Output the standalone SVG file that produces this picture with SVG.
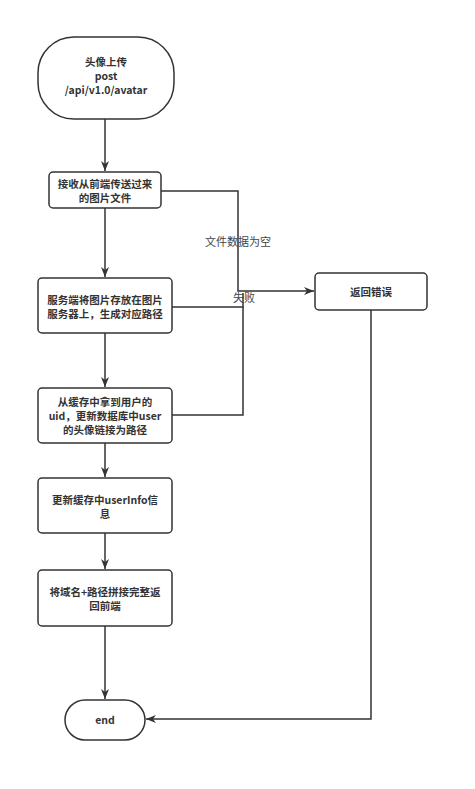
<svg xmlns="http://www.w3.org/2000/svg" width="475" height="789" viewBox="0 0 475 789">
<style>
.n{fill:#fff;stroke:#333;stroke-width:1.5}
.t{font-family:"Noto Sans CJK SC","Noto Sans",sans-serif;font-size:10.5px;font-weight:bold;fill:#333;text-anchor:middle}
.l{font-family:"Noto Sans CJK SC","Noto Sans",sans-serif;font-size:11px;fill:#444;text-anchor:middle}
.e{fill:none;stroke:#333;stroke-width:1.5}
</style>
<defs>
<marker id="a" markerWidth="10" markerHeight="8" refX="10" refY="4" orient="auto" markerUnits="userSpaceOnUse">
<path d="M0,0 L10,4 L0,8 L3,4 Z" fill="#333"/>
</marker>
</defs>
<rect width="475" height="789" fill="#fff"/>
<g id="connectors">
<line class="e" x1="105" y1="119" x2="105" y2="171" marker-end="url(#a)"/>
<line class="e" x1="105" y1="208" x2="105" y2="277" marker-end="url(#a)"/>
<line class="e" x1="105" y1="333" x2="105" y2="387" marker-end="url(#a)"/>
<line class="e" x1="105" y1="443" x2="105" y2="477" marker-end="url(#a)"/>
<line class="e" x1="105" y1="533" x2="105" y2="569" marker-end="url(#a)"/>
<line class="e" x1="105" y1="626" x2="105" y2="699" marker-end="url(#a)"/>
<polyline class="e" points="161,191 238,191 238,291 314,291" marker-end="url(#a)"/>
<polyline class="e" points="172,307 243,307 243,293"/>
<polyline class="e" points="172,415 243,415 243,307"/>
<polyline class="e" points="371,310 371,719 146,719" marker-end="url(#a)"/>
<text class="l" x="238" y="246">文件数据为空</text>
<text class="l" x="244" y="302">失败</text>
</g>
<g id="start">
<rect class="n" x="38" y="37" width="136" height="82" rx="36"/>
<text class="t" x="106" y="66">头像上传</text>
<text class="t" x="106" y="80">post</text>
<text class="t" x="106" y="94">/api/v1.0/avatar</text>
</g>
<g id="receive">
<rect class="n" x="49" y="172" width="112" height="36" rx="4"/>
<text class="t" x="105" y="188">接收从前端传送过来</text>
<text class="t" x="105" y="202">的图片文件</text>
</g>
<g id="store">
<rect class="n" x="38" y="278" width="134" height="55" rx="4"/>
<text class="t" x="105" y="304">服务端将图片存放在图片</text>
<text class="t" x="105" y="318">服务器上，生成对应路径</text>
</g>
<g id="updatedb">
<rect class="n" x="38" y="388" width="134" height="55" rx="4"/>
<text class="t" x="105" y="406">从缓存中拿到用户的</text>
<text class="t" x="105" y="420">uid，更新数据库中user</text>
<text class="t" x="105" y="434">的头像链接为路径</text>
</g>
<g id="updatecache">
<rect class="n" x="38" y="478" width="134" height="55" rx="4"/>
<text class="t" x="105" y="504">更新缓存中userInfo信</text>
<text class="t" x="105" y="518">息</text>
</g>
<g id="return">
<rect class="n" x="38" y="570" width="134" height="56" rx="4"/>
<text class="t" x="105" y="596">将域名+路径拼接完整返</text>
<text class="t" x="105" y="610">回前端</text>
</g>
<g id="error">
<rect class="n" x="315" y="273" width="112" height="37" rx="4"/>
<text class="t" x="371" y="296">返回错误</text>
</g>
<g id="end">
<rect class="n" x="65" y="700" width="80" height="40" rx="20"/>
<text class="t" x="105" y="724">end</text>
</g>
</svg>
